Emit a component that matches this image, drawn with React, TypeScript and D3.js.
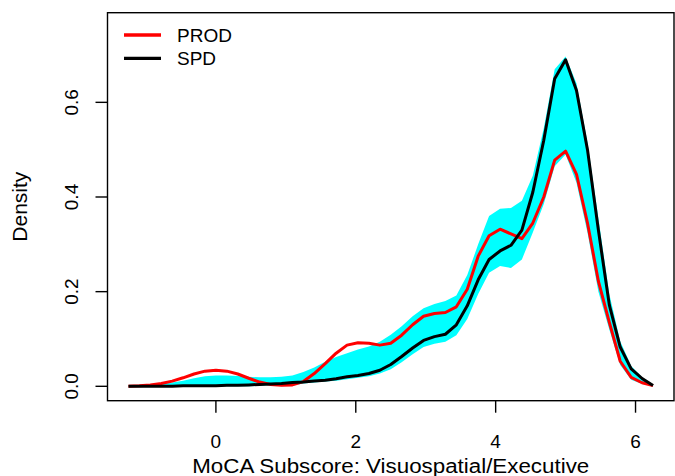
import * as d3 from "d3";

const W = 675;
const H = 476;
const BOX = { left: 107.5, right: 674, top: 12.7, bottom: 400.7 };
const FONT = "'Liberation Sans', Arial, Helvetica, sans-serif";

// score grid
const xs = [
  -1.25, -1.094, -0.938, -0.781, -0.625, -0.469, -0.313, -0.156, 0, 0.156,
  0.313, 0.469, 0.625, 0.781, 0.938, 1.094, 1.25, 1.406, 1.563, 1.719, 1.875,
  2.031, 2.188, 2.344, 2.5, 2.656, 2.813, 2.969, 3.125, 3.281, 3.438, 3.594,
  3.75, 3.906, 4.063, 4.219, 4.375, 4.531, 4.688, 4.844, 5, 5.156, 5.313,
  5.469, 5.625, 5.781, 5.938, 6.094, 6.25,
];

const prod = [
  0.0, 0.001, 0.003, 0.006, 0.011, 0.018, 0.026, 0.032, 0.034, 0.032, 0.026,
  0.017, 0.009, 0.004, 0.002, 0.003, 0.01, 0.027, 0.048, 0.07, 0.087, 0.092,
  0.091, 0.087, 0.091, 0.108, 0.13, 0.148, 0.154, 0.156, 0.168, 0.205, 0.275,
  0.318, 0.332, 0.322, 0.312, 0.345, 0.4, 0.478, 0.497, 0.448, 0.345, 0.222,
  0.135, 0.053, 0.019, 0.0075, 0.0015,
];

const spd = [
  0.0, 0.0, 0.0, 0.0, 0.0, 0.001, 0.001, 0.001, 0.001, 0.002, 0.002, 0.003,
  0.004, 0.005, 0.006, 0.008, 0.009, 0.011, 0.013, 0.016, 0.02, 0.023, 0.027,
  0.034, 0.046, 0.063, 0.081, 0.097, 0.105, 0.11, 0.13, 0.17, 0.225, 0.268,
  0.286, 0.298, 0.33, 0.41, 0.52, 0.65, 0.69, 0.625, 0.5, 0.33, 0.172, 0.083,
  0.037, 0.0165, 0.0015,
];

const bandHi = [
  0.001, 0.002, 0.003, 0.005, 0.008, 0.012, 0.017, 0.021, 0.023, 0.023, 0.022,
  0.02, 0.019, 0.019, 0.02, 0.023, 0.03, 0.04, 0.052, 0.062, 0.07, 0.078,
  0.084, 0.094, 0.109, 0.127, 0.148, 0.165, 0.174, 0.18, 0.192, 0.235, 0.3,
  0.36, 0.375, 0.377, 0.392, 0.445, 0.545, 0.67, 0.697, 0.64, 0.515, 0.355,
  0.195, 0.095, 0.043, 0.019, 0.004,
];

const bandLo = [
  0, 0, 0, 0, 0, 0, 0, 0, 0, 0, 0, 0, 0.001, 0.002, 0.0, 0.001, 0.006, 0.008,
  0.01, 0.012, 0.015, 0.018, 0.021, 0.027, 0.036, 0.051, 0.068, 0.083, 0.09,
  0.094, 0.108, 0.142, 0.195, 0.24, 0.254, 0.25, 0.268, 0.325, 0.385, 0.465,
  0.49, 0.43, 0.325, 0.2, 0.12, 0.045, 0.014, 0.005, 0.001,
];

const xTicks = [0, 2, 4, 6];
const yTicks = [0, 0.2, 0.4, 0.6];

const legendItems = [
  { label: "PROD", color: "#ff0000" },
  { label: "SPD", color: "#000000" },
];

export default function App() {
  const x = d3.scaleLinear().domain([-1.55, 6.55]).range([BOX.left, BOX.right]);
  const y = d3.scaleLinear().domain([-0.0304, 0.7894]).range([BOX.bottom, BOX.top]);

  const idx = xs.map((_, i) => i);

  const area = d3
    .area<number>()
    .x((i) => x(xs[i]))
    .y0((i) => y(bandLo[i]))
    .y1((i) => y(bandHi[i]));

  const line = (vals: number[]) =>
    d3
      .line<number>()
      .x((i) => x(xs[i]))
      .y((i) => y(vals[i]))(idx) ?? "";

  return (
    <div style={{ position: "fixed", left: 0, top: 0 }}>
      <svg width={W} height={H} style={{ display: "block", background: "#fff" }}>
        <path d={area(idx) ?? ""} fill="#00ffff" stroke="none" />
        <path d={line(prod)} fill="none" stroke="#ff0000" strokeWidth={3} strokeLinejoin="round" />
        <path d={line(spd)} fill="none" stroke="#000" strokeWidth={3} strokeLinejoin="round" />

        {/* frame */}
        <rect
          x={BOX.left}
          y={BOX.top}
          width={BOX.right - BOX.left}
          height={BOX.bottom - BOX.top}
          fill="none"
          stroke="#000"
          strokeWidth={1.4}
        />

        {/* x axis */}
        {xTicks.map((t) => (
          <g key={`x${t}`}>
            <line x1={x(t)} x2={x(t)} y1={BOX.bottom} y2={BOX.bottom + 12} stroke="#000" strokeWidth={1.4} />
            <text x={x(t)} y={448} textAnchor="middle" fontFamily={FONT} fontSize={19}>
              {t}
            </text>
          </g>
        ))}
        <text
          x={(BOX.left + BOX.right) / 2}
          y={473}
          textAnchor="middle"
          fontFamily={FONT}
          fontSize={19.5}
          textLength={397}
          lengthAdjust="spacingAndGlyphs"
        >
          MoCA Subscore: Visuospatial/Executive
        </text>

        {/* y axis */}
        {yTicks.map((t) => (
          <g key={`y${t}`}>
            <line x1={BOX.left - 12} x2={BOX.left} y1={y(t)} y2={y(t)} stroke="#000" strokeWidth={1.4} />
            <text
              transform={`translate(78,${y(t)}) rotate(-90)`}
              textAnchor="middle"
              fontFamily={FONT}
              fontSize={19}
            >
              {t.toFixed(1)}
            </text>
          </g>
        ))}
        <text
          transform={`translate(26.7,${(BOX.top + BOX.bottom) / 2}) rotate(-90)`}
          textAnchor="middle"
          fontFamily={FONT}
          fontSize={19.5}
          textLength={70}
          lengthAdjust="spacingAndGlyphs"
        >
          Density
        </text>

        {/* legend */}
        {legendItems.map((d, i) => (
          <g key={d.label} transform={`translate(0,${35 + i * 23.3})`}>
            <line x1={124} x2={161} y1={0} y2={0} stroke={d.color} strokeWidth={3.3} />
            <text x={177} y={7} fontFamily={FONT} fontSize={19}>
              {d.label}
            </text>
          </g>
        ))}
      </svg>
    </div>
  );
}
